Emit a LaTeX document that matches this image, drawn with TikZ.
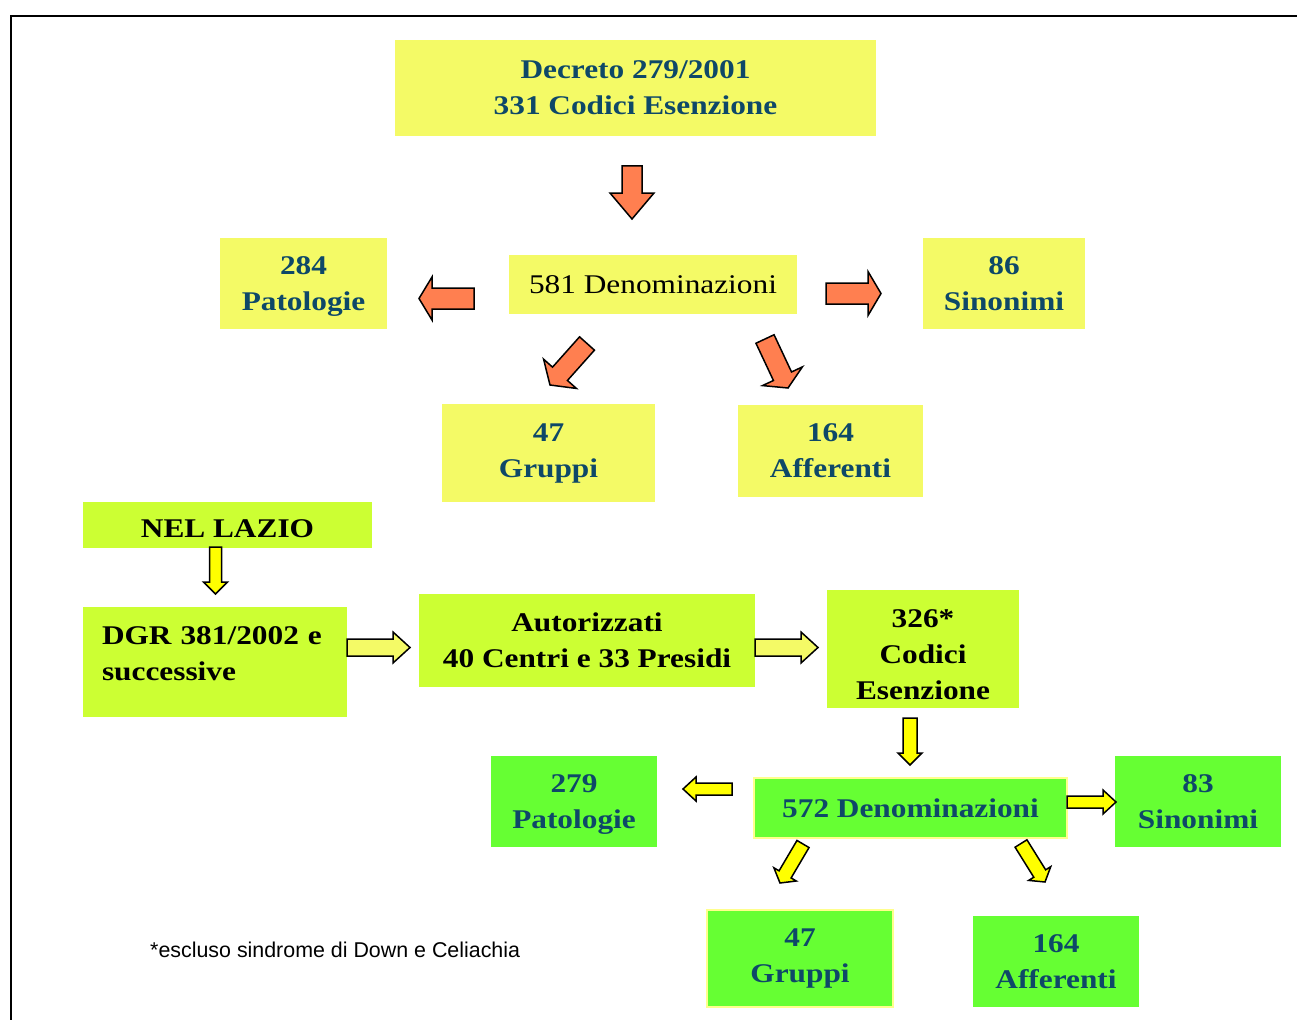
\documentclass[tikz,border=0pt]{standalone}
\usepackage{fontspec}
\setmainfont[FakeStretch=1.16]{Liberation Serif}
\newfontfamily\notefont{Liberation Sans}
\usetikzlibrary{calc}

\definecolor{boxyellow}{RGB}{244,250,102}
\definecolor{boxlime}{RGB}{204,255,51}
\definecolor{boxgreen}{RGB}{102,255,51}
\definecolor{arroworange}{RGB}{255,127,80}
\definecolor{arrowyellow}{RGB}{255,255,0}
\definecolor{edgeyellow}{RGB}{255,255,140}
\definecolor{textteal}{RGB}{14,72,104}

% block arrow: fill, tail, tip, half shaft, half head, head length
\newcommand{\blockarrow}[6]{%
  \coordinate (hb) at ($(#3)!#6pt!(#2)$);
  \filldraw[barrow, fill=#1]
    ($(#2)!#4pt!90:(#3)$) -- ($(hb)!#4pt!90:(#3)$) -- ($(hb)!#5pt!90:(#3)$)
    -- (#3) -- ($(hb)!#5pt!-90:(#3)$) -- ($(hb)!#4pt!-90:(#3)$)
    -- ($(#2)!#4pt!-90:(#3)$) -- cycle;
}

\begin{document}
\begin{tikzpicture}[x=1pt,y=-1pt,
  box/.style={rectangle, inner sep=0pt, align=center,
    font=\fontsize{27}{36}\selectfont\bfseries},
  yellowbox/.style={box, fill=boxyellow, text=textteal},
  limebox/.style={box, fill=boxlime, text=black},
  greenbox/.style={box, fill=boxgreen, text=textteal},
  barrow/.style={draw=black, line width=1.5pt, line join=miter},
  note/.style={font=\notefont\fontsize{21.4}{25}\selectfont, inner sep=0pt}]
  \useasboundingbox (0,0) rectangle (1297,1019);
  \draw[line width=2pt] (11,1025) -- (11,16) -- (1305,16);

  \node[yellowbox, minimum width=481pt, minimum height=96pt] (decreto) at (635.5,88) {Decreto 279/2001\\331 Codici Esenzione};
  \node[yellowbox, minimum width=167pt, minimum height=91pt] (pat_1) at (303.5,283.5) {\rule{0pt}{24pt}284\\Patologie};
  \node[yellowbox, minimum width=288pt, minimum height=59pt, text=black,
    font=\fontsize{27}{34}\selectfont] (den_1) at (653,284.5) {581 Denominazioni};
  \node[yellowbox, minimum width=162pt, minimum height=91pt] (sin_1) at (1004,283.5) {86\\Sinonimi};
  \node[yellowbox, minimum width=213pt, minimum height=98pt] (gru_1) at (548.5,453) {47\\Gruppi};
  \node[yellowbox, minimum width=185pt, minimum height=92pt] (aff_1) at (830.5,451) {164\\Afferenti};

  \node[limebox, minimum width=289pt, minimum height=46pt, text height=24pt, text depth=0pt] (lazio) at (227.5,525) {NEL LAZIO};
  \node[limebox, minimum width=264pt, minimum height=110pt, align=left,
    text width=226pt] (dgr) at (215,662) {DGR 381/2002 e\\successive\\[-20pt]\mbox{}};
  \node[limebox, minimum width=336pt, minimum height=93pt] (aut) at (587,640.5) {Autorizzati\\40 Centri e 33 Presidi};
  \node[limebox, minimum width=192pt, minimum height=118pt] (cod) at (923,649) {\rule{0pt}{30pt}326*\\Codici\\Esenzione};

  \node[greenbox, minimum width=313pt, minimum height=60pt, draw=edgeyellow, line width=1.5pt] (den_2) at (910.5,808) {572 Denominazioni};
  \node[greenbox, minimum width=166pt, minimum height=91pt] (pat_2) at (574,801.5) {\rule{0pt}{24pt}279\\Patologie};
  \node[greenbox, minimum width=166pt, minimum height=91pt] (sin_2) at (1198,801.5) {83\\Sinonimi};
  \node[greenbox, minimum width=186pt, minimum height=97pt, draw=edgeyellow, line width=1.5pt] (gru_2) at (800,958.5) {47\\Gruppi};
  \node[greenbox, minimum width=166pt, minimum height=91pt] (aff_2) at (1056,961.5) {164\\Afferenti};

  \node[note, anchor=west] (nota) at (150,950) {*escluso sindrome di Down e Celiachia};

  \coordinate (a_1) at (632,166);  \coordinate (b_1) at (632,219);
  \coordinate (a_2) at (474,298.5);  \coordinate (b_2) at (419,298.5);
  \coordinate (a_3) at (826,293.5);  \coordinate (b_3) at (881,293.5);
  \coordinate (a_4) at (587,343.5);  \coordinate (b_4) at (550,385);
  \coordinate (a_5) at (765,339);  \coordinate (b_5) at (788,388);
  \coordinate (a_6) at (215.5,547);  \coordinate (b_6) at (215.5,594);
  \coordinate (a_7) at (347,647.5);  \coordinate (b_7) at (410,647.5);
  \coordinate (a_8) at (755,647.5);  \coordinate (b_8) at (818,647.5);
  \coordinate (a_9) at (910,718);  \coordinate (b_9) at (910,765);
  \coordinate (a_10) at (732,789);  \coordinate (b_10) at (683,789);
  \coordinate (a_11) at (1067,802);  \coordinate (b_11) at (1116,802);
  \coordinate (a_12) at (803,844);  \coordinate (b_12) at (780,883);
  \coordinate (a_13) at (1021,843.5);  \coordinate (b_13) at (1045,882);

  \blockarrow{arroworange}{a_1}{b_1}{10}{22}{26}
  \blockarrow{arroworange}{a_2}{b_2}{10.5}{21.5}{13}
  \blockarrow{arroworange}{a_3}{b_3}{10.5}{22}{13}
  \blockarrow{arroworange}{a_4}{b_4}{10}{22}{15}
  \blockarrow{arroworange}{a_5}{b_5}{10}{22}{13}
  \blockarrow{arrowyellow}{a_6}{b_6}{6}{12}{12}
  \blockarrow{boxyellow}{a_7}{b_7}{8.5}{15.5}{17}
  \blockarrow{boxyellow}{a_8}{b_8}{8.5}{15.5}{17}
  \blockarrow{arrowyellow}{a_9}{b_9}{7}{12}{12}
  \blockarrow{arrowyellow}{a_10}{b_10}{6}{12}{13}
  \blockarrow{arrowyellow}{a_11}{b_11}{6}{12}{13}
  \blockarrow{arrowyellow}{a_12}{b_12}{7}{13}{10}
  \blockarrow{arrowyellow}{a_13}{b_13}{7}{13}{10}
\end{tikzpicture}
\end{document}
